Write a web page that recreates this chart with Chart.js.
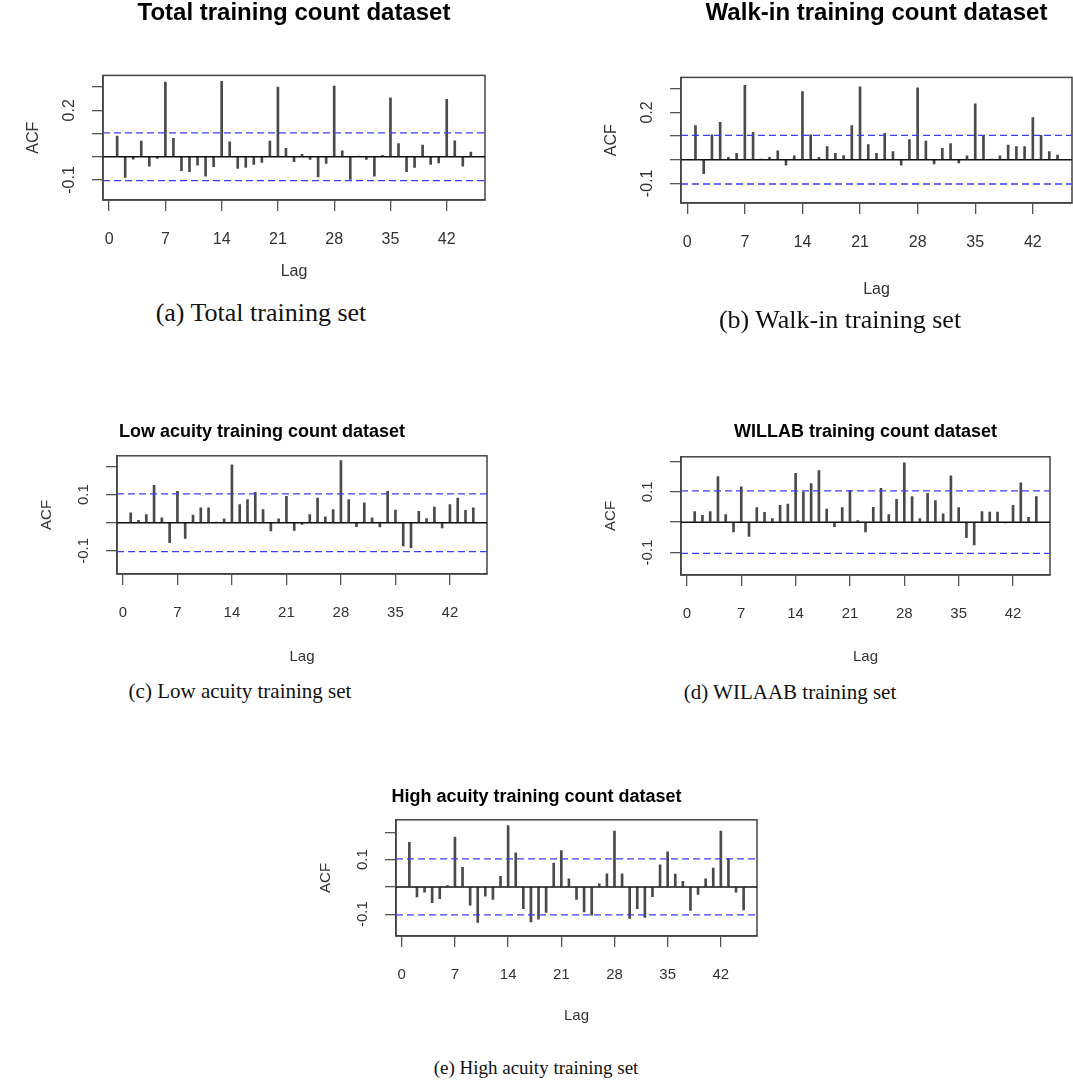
<!DOCTYPE html>
<html>
<head>
<meta charset="utf-8">
<script src="https://cdn.jsdelivr.net/npm/chart.js@4.4.0/dist/chart.umd.min.js"></script>
<style>
  html, body { margin: 0; padding: 0; background: #fff; overflow: hidden; }
  body { width: 1073px; height: 1091px; position: relative; }
  canvas { position: absolute; }
  .caption {
    position: absolute;
    font-family: 'Liberation Serif', 'Times New Roman', serif;
    color: #111;
    white-space: nowrap;
    transform: translate(-50%, -50%);
  }
</style>
</head>
<body>
<canvas id="acfTotal"></canvas>
<canvas id="acfWalkIn"></canvas>
<canvas id="acfLow"></canvas>
<canvas id="acfWillab"></canvas>
<canvas id="acfHigh"></canvas>

<div class="caption" style="left:261px; top:313px; font-size:26px;">(a) Total training set</div>
<div class="caption" style="left:840px; top:320px; font-size:26px;">(b) Walk-in training set</div>
<div class="caption" style="left:240px; top:691px; font-size:21px;">(c) Low acuity training set</div>
<div class="caption" style="left:790px; top:692px; font-size:21px;">(d) WILAAB training set</div>
<div class="caption" style="left:536px; top:1068px; font-size:19px;">(e) High acuity training set</div>

<script>
// lags shown in every ACF panel (lag 0 left out)
const lags = [1, 2, 3, 4, 5, 6, 7, 8, 9, 10, 11, 12, 13, 14, 15, 16, 17, 18, 19, 20, 21, 22,
  23, 24, 25, 26, 27, 28, 29, 30, 31, 32, 33, 34, 35, 36, 37, 38, 39, 40, 41, 42, 43, 44, 45];
const lagTicks = [0, 7, 14, 21, 28, 35, 42];

// 95% band, 1.96 / sqrt(n)
const ciBound = 0.1026;

const totalAcf = [0.089, -0.089, -0.010, 0.067, -0.040, -0.007, 0.321, 0.079, -0.060, -0.064,
  -0.036, -0.083, -0.043, 0.324, 0.064, -0.050, -0.046, -0.033, -0.024, 0.067, 0.300, 0.036,
  -0.021, 0.010, -0.011, -0.087, -0.029, 0.304, 0.026, -0.097, 0.003, -0.011, -0.083, 0.006,
  0.254, 0.057, -0.064, -0.046, 0.050, -0.033, -0.026, 0.247, 0.068, -0.040, 0.020];

const walkInAcf = [0.144, -0.059, 0.105, 0.158, 0.010, 0.027, 0.315, 0.116, 0.002, 0.010,
  0.038, -0.023, 0.016, 0.288, 0.105, 0.010, 0.055, 0.027, 0.018, 0.144, 0.308, 0.064,
  0.027, 0.112, 0.034, -0.023, 0.085, 0.304, 0.079, -0.018, 0.048, 0.068, -0.014, 0.016,
  0.236, 0.099, 0.002, 0.016, 0.062, 0.055, 0.055, 0.178, 0.103, 0.034, 0.020];

const lowAcuityAcf = [0.035, 0.009, 0.029, 0.133, 0.018, -0.071, 0.112, -0.056, 0.027, 0.053,
  0.053, 0.002, 0.014, 0.206, 0.065, 0.082, 0.108, 0.047, -0.029, 0.014, 0.094, -0.027,
  -0.006, 0.029, 0.088, 0.021, 0.047, 0.221, 0.082, -0.014, 0.071, 0.018, -0.015, 0.112,
  0.045, -0.082, -0.088, 0.041, 0.015, 0.056, -0.018, 0.065, 0.088, 0.044, 0.053];

const willabAcf = [0.035, 0.022, 0.035, 0.150, 0.025, -0.032, 0.116, -0.047, 0.048, 0.032,
  0.012, 0.055, 0.059, 0.161, 0.100, 0.127, 0.170, 0.043, -0.015, 0.048, 0.105, 0.005,
  -0.032, 0.049, 0.111, 0.025, 0.075, 0.195, 0.084, 0.012, 0.095, 0.071, 0.027, 0.152,
  0.048, -0.051, -0.075, 0.035, 0.033, 0.033, -0.003, 0.055, 0.129, 0.016, 0.084];

const highAcuityAcf = [0.163, -0.037, -0.019, -0.058, -0.043, 0.005, 0.183, 0.072, -0.067, -0.130,
  -0.034, -0.046, 0.039, 0.225, 0.125, -0.080, -0.128, -0.118, -0.094, 0.087, 0.133, 0.030,
  -0.046, -0.092, -0.104, 0.011, 0.048, 0.205, 0.048, -0.116, -0.080, -0.112, -0.036, 0.081,
  0.129, 0.047, 0.020, -0.086, -0.028, 0.030, 0.069, 0.205, 0.105, -0.019, -0.084];

const lagMin = -0.76, lagMax = 46.76;

const sansFont = "'Liberation Sans', Arial, sans-serif";

// draws the frame round the plotting region, like R's box()
const plotFrame = {
  id: 'plotFrame',
  beforeDatasetsDraw(chart) {
    const a = chart.chartArea, ctx = chart.ctx;
    ctx.save();
    ctx.strokeStyle = '#444';
    ctx.lineWidth = 1.5;
    ctx.strokeRect(a.left, a.top, a.right - a.left, a.bottom - a.top);
    ctx.restore();
  }
};

// y tick labels set parallel to the axis
const sideLabels = {
  id: 'sideLabels',
  afterDraw(chart, args, opts) {
    const ys = chart.scales.y, ctx = chart.ctx;
    ctx.save();
    ctx.font = opts.size + 'px ' + sansFont;
    ctx.fillStyle = '#333';
    ctx.textAlign = 'center';
    ctx.textBaseline = 'middle';
    (opts.values || []).forEach(v => {
      ctx.save();
      ctx.translate(chart.chartArea.left - 33, ys.getPixelForValue(v));
      ctx.rotate(-Math.PI / 2);
      ctx.fillText(String(v), 0, 0);
      ctx.restore();
    });
    ctx.restore();
  }
};

function acfChart(id, p) {
  const cv = document.getElementById(id);
  const half = p.titleSize * 0.6;
  const left = p.box[0] - 80, top = p.titleY - half;
  cv.width = p.box[1] - left + 1;
  cv.height = p.box[3] + p.xAxisH - top;
  cv.style.left = left + 'px';
  cv.style.top = top + 'px';

  const labelFont = { family: sansFont, size: p.textSize, lineHeight: 1.2 };
  return new Chart(cv, {
    type: 'bar',
    data: {
      datasets: [
        {
          type: 'line',
          data: [{ x: lagMin, y: ciBound }, { x: lagMax, y: ciBound }],
          borderColor: '#3c3cf6', borderWidth: 1.3, borderDash: [7, 4],
          pointRadius: 0
        },
        {
          type: 'line',
          data: [{ x: lagMin, y: -ciBound }, { x: lagMax, y: -ciBound }],
          borderColor: '#3c3cf6', borderWidth: 1.3, borderDash: [7, 4],
          pointRadius: 0
        },
        {
          type: 'line',
          data: [{ x: lagMin, y: 0 }, { x: lagMax, y: 0 }],
          borderColor: '#111', borderWidth: 1.5,
          pointRadius: 0
        },
        {
          data: lags.map((l, i) => ({ x: l, y: p.values[i] })),
          backgroundColor: '#4a4a4a',
          barThickness: 2
        }
      ]
    },
    options: {
      responsive: false,
      animation: false,
      events: [],
      layout: { padding: { right: 1, top: 0, bottom: 0, left: 0 } },
      plugins: {
        legend: { display: false },
        tooltip: { enabled: false },
        title: {
          display: true,
          // true: centred on the whole figure, false: centred on the plot box
          fullSize: p.titleOnFigure,
          text: p.title,
          color: '#000',
          font: { family: sansFont, size: p.titleSize, weight: 'bold', lineHeight: 1.2 },
          padding: { top: 0, bottom: p.box[2] - p.titleY - half }
        },
        sideLabels: { values: p.yLabels, size: p.textSize }
      },
      scales: {
        x: {
          type: 'linear',
          min: lagMin, max: lagMax,
          offset: false,
          afterFit: s => { s.height = p.xAxisH; },
          afterBuildTicks: s => { s.ticks = lagTicks.map(v => ({ value: v })); },
          grid: { offset: false, drawOnChartArea: false, tickLength: 11, tickColor: '#555', lineWidth: 1.3 },
          border: { color: '#444', width: 1.5 },
          ticks: { color: '#333', font: labelFont, padding: 19, maxRotation: 0, autoSkip: false },
          title: {
            display: true, text: 'Lag', color: '#333', font: labelFont,
            padding: { top: 0, bottom: p.box[3] + p.xAxisH - p.lagY - p.textSize * 0.6 }
          }
        },
        y: {
          min: p.yRange[0], max: p.yRange[1],
          afterFit: s => { s.width = 80; },
          afterBuildTicks: s => { s.ticks = p.yTicks.map(v => ({ value: v })); },
          grid: { drawOnChartArea: false, tickLength: 11, tickColor: '#555', lineWidth: 1.3 },
          border: { color: '#444', width: 1.5 },
          ticks: { display: false },
          title: { display: true, text: 'ACF', color: '#333', font: labelFont, padding: { top: 1, bottom: 0 } }
        }
      }
    },
    plugins: [plotFrame, sideLabels]
  });
}

acfChart('acfTotal', {
  title: 'Total training count dataset', values: totalAcf, titleOnFigure: false,
  box: [103, 485, 75, 200], titleY: 13, lagY: 272, xAxisH: 92, titleSize: 24, textSize: 16,
  yRange: [-0.186, 0.350], yTicks: [-0.1, 0, 0.1, 0.2, 0.3], yLabels: [0.2, -0.1]
});
acfChart('acfWalkIn', {
  title: 'Walk-in training count dataset', values: walkInAcf, titleOnFigure: false,
  box: [681, 1072, 77, 203], titleY: 13, lagY: 290, xAxisH: 110, titleSize: 24, textSize: 16,
  yRange: [-0.183, 0.348], yTicks: [-0.1, 0, 0.1, 0.2, 0.3], yLabels: [0.2, -0.1]
});
acfChart('acfLow', {
  title: 'Low acuity training count dataset', values: lowAcuityAcf, titleOnFigure: true,
  box: [117, 487, 456, 575], titleY: 432, lagY: 658, xAxisH: 100, titleSize: 18, textSize: 15,
  yRange: [-0.182, 0.238], yTicks: [-0.1, 0, 0.1, 0.2], yLabels: [0.1, -0.1]
});
acfChart('acfWillab', {
  title: 'WILLAB training count dataset', values: willabAcf, titleOnFigure: false,
  box: [681, 1050, 457, 576], titleY: 432, lagY: 658, xAxisH: 100, titleSize: 18, textSize: 15,
  yRange: [-0.174, 0.215], yTicks: [-0.1, 0, 0.1, 0.2], yLabels: [0.1, -0.1]
});
acfChart('acfHigh', {
  title: 'High acuity training count dataset', values: highAcuityAcf, titleOnFigure: true,
  box: [396, 757, 820, 937], titleY: 797, lagY: 1017, xAxisH: 98, titleSize: 18, textSize: 15,
  yRange: [-0.180, 0.246], yTicks: [-0.1, 0, 0.1, 0.2], yLabels: [0.1, -0.1]
});
</script>
</body>
</html>
